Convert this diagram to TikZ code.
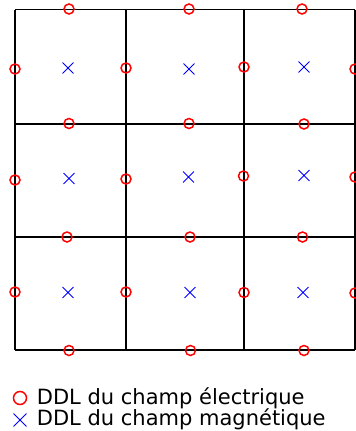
\documentclass[tikz,border=0pt]{standalone}
\usepackage{fontspec}
\setmainfont{DejaVu Sans}
\usetikzlibrary{shapes.misc}

\begin{document}
\begin{tikzpicture}[x=1pt, y=-1pt,
	grille/.style={line width=1.9pt, black},
	ddle/.style={circle, draw=red, line width=1.5pt, inner sep=0pt, minimum size=10pt},
	ddlm/.style={cross out, draw=blue, line width=0.9pt, inner sep=0pt, minimum size=10pt},
	legende/.style={anchor=base west, inner sep=0pt, font=\fontsize{21}{21}\selectfont}]
	\useasboundingbox (0,0) rectangle (356,431);
	% maillage
	\foreach \x in {15,126,244,355}
		\draw[grille] (\x,9.5) -- (\x,350);
	\foreach \y in {9.5,123.7,237,350}
		\draw[grille] (15,\y) -- (355,\y);

	% DDL electriques (aretes)
	\foreach \x/\y [count=\i] in {
		69/9, 189/9, 302/9,
		15/69, 126/68, 244/67, 355/69,
		69/123.5, 189/123.5, 304/124,
		15/180, 126/179, 243.5/176, 355/177,
		67/237, 190/237, 302.5/237,
		15/292, 126/292, 244/292.5, 355/293,
		69/350.5, 190.5/350.5, 304/350.5}
		\node[ddle] (e\i) at (\x,\y) {};

	% DDL magnetiques (centres)
	\foreach \x/\y [count=\i] in {
		68/68, 189/69, 304/67,
		69/178.5, 188.5/177, 304/175.5,
		68/292.5, 190/292.5, 303/292.5}
		\node[ddlm] (m\i) at (\x,\y) {};

	% legende
	\node[ddle, minimum size=13pt] (le) at (20,398) {};
	\node[legende] (te) at (36.7,404) {DDL du champ électrique};
	\node[ddlm, minimum size=12pt] (lm) at (20,420) {};
	\node[legende] (tm) at (36.7,425) {DDL du champ magnétique};
\end{tikzpicture}
\end{document}
